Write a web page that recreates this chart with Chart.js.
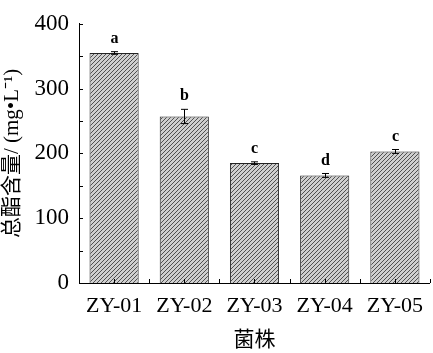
<!DOCTYPE html>
<html lang="zh">
<head>
  <meta charset="UTF-8" />
  <title>总酯含量</title>
  <script src="https://cdn.jsdelivr.net/npm/chart.js"></script>
  <style>
    * { margin: 0; padding: 0; box-sizing: border-box; }
    body { background: #fff; width: 433px; height: 353px; overflow: hidden; }
    #wrap { width: 433px; height: 353px; }
  </style>
</head>
<body>
  <div id="wrap"><canvas id="chart"></canvas></div>

  <script>
    // data
    const strains = ['ZY-01', 'ZY-02', 'ZY-03', 'ZY-04', 'ZY-05'];
    const esterValues = [355, 257, 185, 166, 203];
    const esterErrors = [2, 11, 2, 3, 3];
    const sigLetters = ['a', 'b', 'c', 'd', 'c'];

    const serif = '"Liberation Serif", "Noto Sans CJK SC", serif';

    // diagonal hatch fill
    function hatch() {
      const c = document.createElement('canvas');
      c.width = 4; c.height = 4;
      const g = c.getContext('2d');
      g.fillStyle = '#cfcfcf';
      g.fillRect(0, 0, 4, 4);
      g.strokeStyle = '#505050';
      g.lineWidth = 1;
      g.beginPath();
      g.moveTo(0, 4); g.lineTo(4, 0);
      g.moveTo(-1, 1); g.lineTo(1, -1);
      g.moveTo(3, 5); g.lineTo(5, 3);
      g.stroke();
      return g.createPattern(c, 'repeat');
    }

    // error bars, letters and inward ticks
    const extras = {
      id: 'extras',
      afterDatasetsDraw(chart) {
        const ctx = chart.ctx;
        const xs = chart.scales.x, ys = chart.scales.y;
        const meta = chart.getDatasetMeta(0);
        ctx.save();
        ctx.strokeStyle = '#000';
        ctx.lineWidth = 1;
        meta.data.forEach((bar, i) => {
          const x = Math.round(bar.x) + 0.5;
          const hi = ys.getPixelForValue(esterValues[i] + esterErrors[i]);
          const lo = ys.getPixelForValue(esterValues[i] - esterErrors[i]);
          ctx.beginPath();
          ctx.moveTo(x, hi); ctx.lineTo(x, lo);
          ctx.moveTo(x - 3.5, hi); ctx.lineTo(x + 3.5, hi);
          ctx.moveTo(x - 3.5, lo); ctx.lineTo(x + 3.5, lo);
          ctx.stroke();
          ctx.fillStyle = '#000';
          ctx.font = 'bold 16px ' + serif;
          ctx.textAlign = 'center';
          ctx.textBaseline = 'bottom';
          ctx.fillText(sigLetters[i], x, hi - 5);
        });

        // inward ticks on y axis
        const left = chart.chartArea.left;
        for (let v = 0; v <= 400; v += 50) {
          const y = Math.round(ys.getPixelForValue(v)) + 0.5;
          ctx.beginPath();
          ctx.moveTo(left, y); ctx.lineTo(left + 4, y);
          ctx.stroke();
        }
        // inward ticks on x axis: centres and boundaries
        const bottom = chart.chartArea.bottom;
        for (let k = 0; k <= strains.length * 2; k++) {
          const px = Math.round(xs.getPixelForValue(k / 2 - 0.5)) + 0.5;
          ctx.beginPath();
          ctx.moveTo(px, bottom); ctx.lineTo(px, bottom - 4);
          ctx.stroke();
        }
        ctx.restore();
      }
    };

    new Chart(document.getElementById('chart'), {
      type: 'bar',
      data: {
        labels: strains,
        datasets: [{
          data: esterValues,
          backgroundColor: hatch(),
          borderColor: '#222',
          borderWidth: 1,
          barPercentage: 0.7,
          categoryPercentage: 1
        }]
      },
      options: {
        responsive: true,
        maintainAspectRatio: false,
        animation: false,
        layout: { padding: { top: 7, right: 0, left: 0, bottom: 0 } },
        plugins: {
          legend: { display: false },
          tooltip: { enabled: false }
        },
        scales: {
          x: {
            grid: { display: false, drawTicks: false },
            border: { display: true, color: '#000', width: 1 },
            ticks: { color: '#000', font: { family: serif, size: 22 }, padding: 10 },
            title: {
              display: true, text: '菌株', color: '#000',
              font: { family: serif, size: 21 }, padding: { top: 6, bottom: 0 }
            },
            afterFit: s => { s.height = 70; }
          },
          y: {
            min: 0, max: 400,
            grid: { display: false, drawTicks: false },
            border: { display: true, color: '#000', width: 1 },
            ticks: { stepSize: 100, color: '#000', font: { family: serif, size: 23 }, padding: 10 },
            title: {
              display: true, text: '总酯含量/ (mg•L⁻¹)', color: '#000',
              font: { family: serif, size: 21 }, padding: { top: 0, bottom: 2 }
            },
            afterFit: s => { s.width = 79; }
          }
        }
      },
      plugins: [extras]
    });
  </script>
</body>
</html>
